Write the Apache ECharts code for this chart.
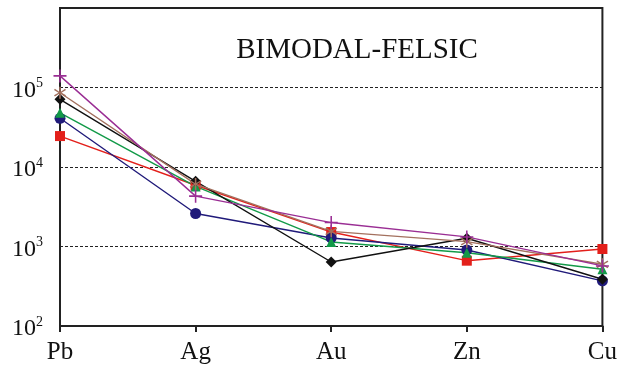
<!DOCTYPE html>
<html>
<head>
<meta charset="utf-8">
<script src="https://cdn.jsdelivr.net/npm/echarts@6/dist/echarts.min.js"></script>
<style>
  html, body { margin: 0; padding: 0; background: #fff; }
  #chart { width: 620px; height: 373px; }
</style>
</head>
<body>
<div id="chart"></div>
<script>
// elements along the x axis
const elements = ["Pb", "Ag", "Au", "Zn", "Cu"];

// one profile per deposit
const purplePlus = [140000, 4300, 2000, 1320, 570];
const brownStar = [86000, 6100, 1550, 1150, 597];
const blackDiamond = [71000, 6600, 638, 1270, 387];
const greenTriangle = [48000, 5700, 1140, 835, 517];
const navyCircle = [41000, 2600, 1280, 904, 370];
const redSquare = [24500, 5900, 1520, 663, 930];

const yTicks = [100, 1000, 10000, 100000];

const plusPath = "path://M4.4,0h1.2v4.4h4.4v1.2h-4.4v4.4h-1.2v-4.4h-4.4v-1.2h4.4z";
const starPath =
  "path://M4.4,0h1.2v4.1l3.3,-2.3l0.7,1l-3.4,2.2l3.4,2.2l-0.7,1l-3.3,-2.3v4.1h-1.2v-4.1l-3.3,2.3l-0.7,-1l3.4,-2.2l-3.4,-2.2l0.7,-1l3.3,2.3z";

const chart = echarts.init(document.getElementById("chart"));

function makeSeries(name, data, color, symbol, size) {
  return {
    name: name,
    type: "line",
    data: data,
    symbol: symbol,
    symbolSize: size,
    lineStyle: { color: color, width: 1.4 },
    itemStyle: { color: color },
    z: 3,
  };
}

chart.setOption({
  animation: false,
  title: {
    text: "BIMODAL-FELSIC",
    left: 352,
    top: 31,
    textAlign: "center",
    textStyle: {
      fontFamily: "Liberation Serif",
      fontWeight: "normal",
      fontSize: 29,
      color: "#111",
    },
  },
  grid: {
    left: 60,
    right: 15,
    top: 8,
    bottom: 47,
    show: true,
    borderColor: "#222",
    borderWidth: 2,
  },
  xAxis: {
    type: "category",
    data: elements,
    boundaryGap: false,
    axisLine: { lineStyle: { color: "#222", width: 2 } },
    axisTick: { show: true, length: 6, lineStyle: { color: "#222", width: 2 } },
    axisLabel: {
      margin: 14,
      fontFamily: "Liberation Serif",
      fontSize: 25,
      color: "#111",
    },
    splitLine: { show: false },
  },
  yAxis: {
    type: "log",
    logBase: 10,
    min: 100,
    max: 1000000,
    axisLine: { show: true, lineStyle: { color: "#222", width: 2 } },
    axisTick: { show: false },
    splitLine: {
      show: true,
      lineStyle: { color: "#222", type: [3, 2], width: 1 },
    },
    axisLabel: {
      margin: 17,
      formatter: function (v) {
        if (yTicks.indexOf(v) < 0) return "";
        const exp = Math.round(Math.log10(v));
        return "{b|10}{s|" + exp + "}";
      },
      rich: {
        b: {
          fontFamily: "Liberation Serif",
          fontSize: 24,
          color: "#111",
          padding: [6, 0, 0, 0],
        },
        s: {
          fontFamily: "Liberation Serif",
          fontSize: 14,
          color: "#111",
          padding: [0, 0, 8, 0],
        },
      },
    },
  },
  series: [
    makeSeries("red", redSquare, "#e3201b", "rect", 10),
    makeSeries("navy", navyCircle, "#201a7a", "circle", 11),
    makeSeries("green", greenTriangle, "#129a48", "triangle", 10),
    makeSeries("black", blackDiamond, "#111111", "diamond", 11),
    makeSeries("brown", brownStar, "#a3705e", starPath, 12),
    makeSeries("purple", purplePlus, "#9a2e94", plusPath, 13),
  ],
});
</script>
</body>
</html>
